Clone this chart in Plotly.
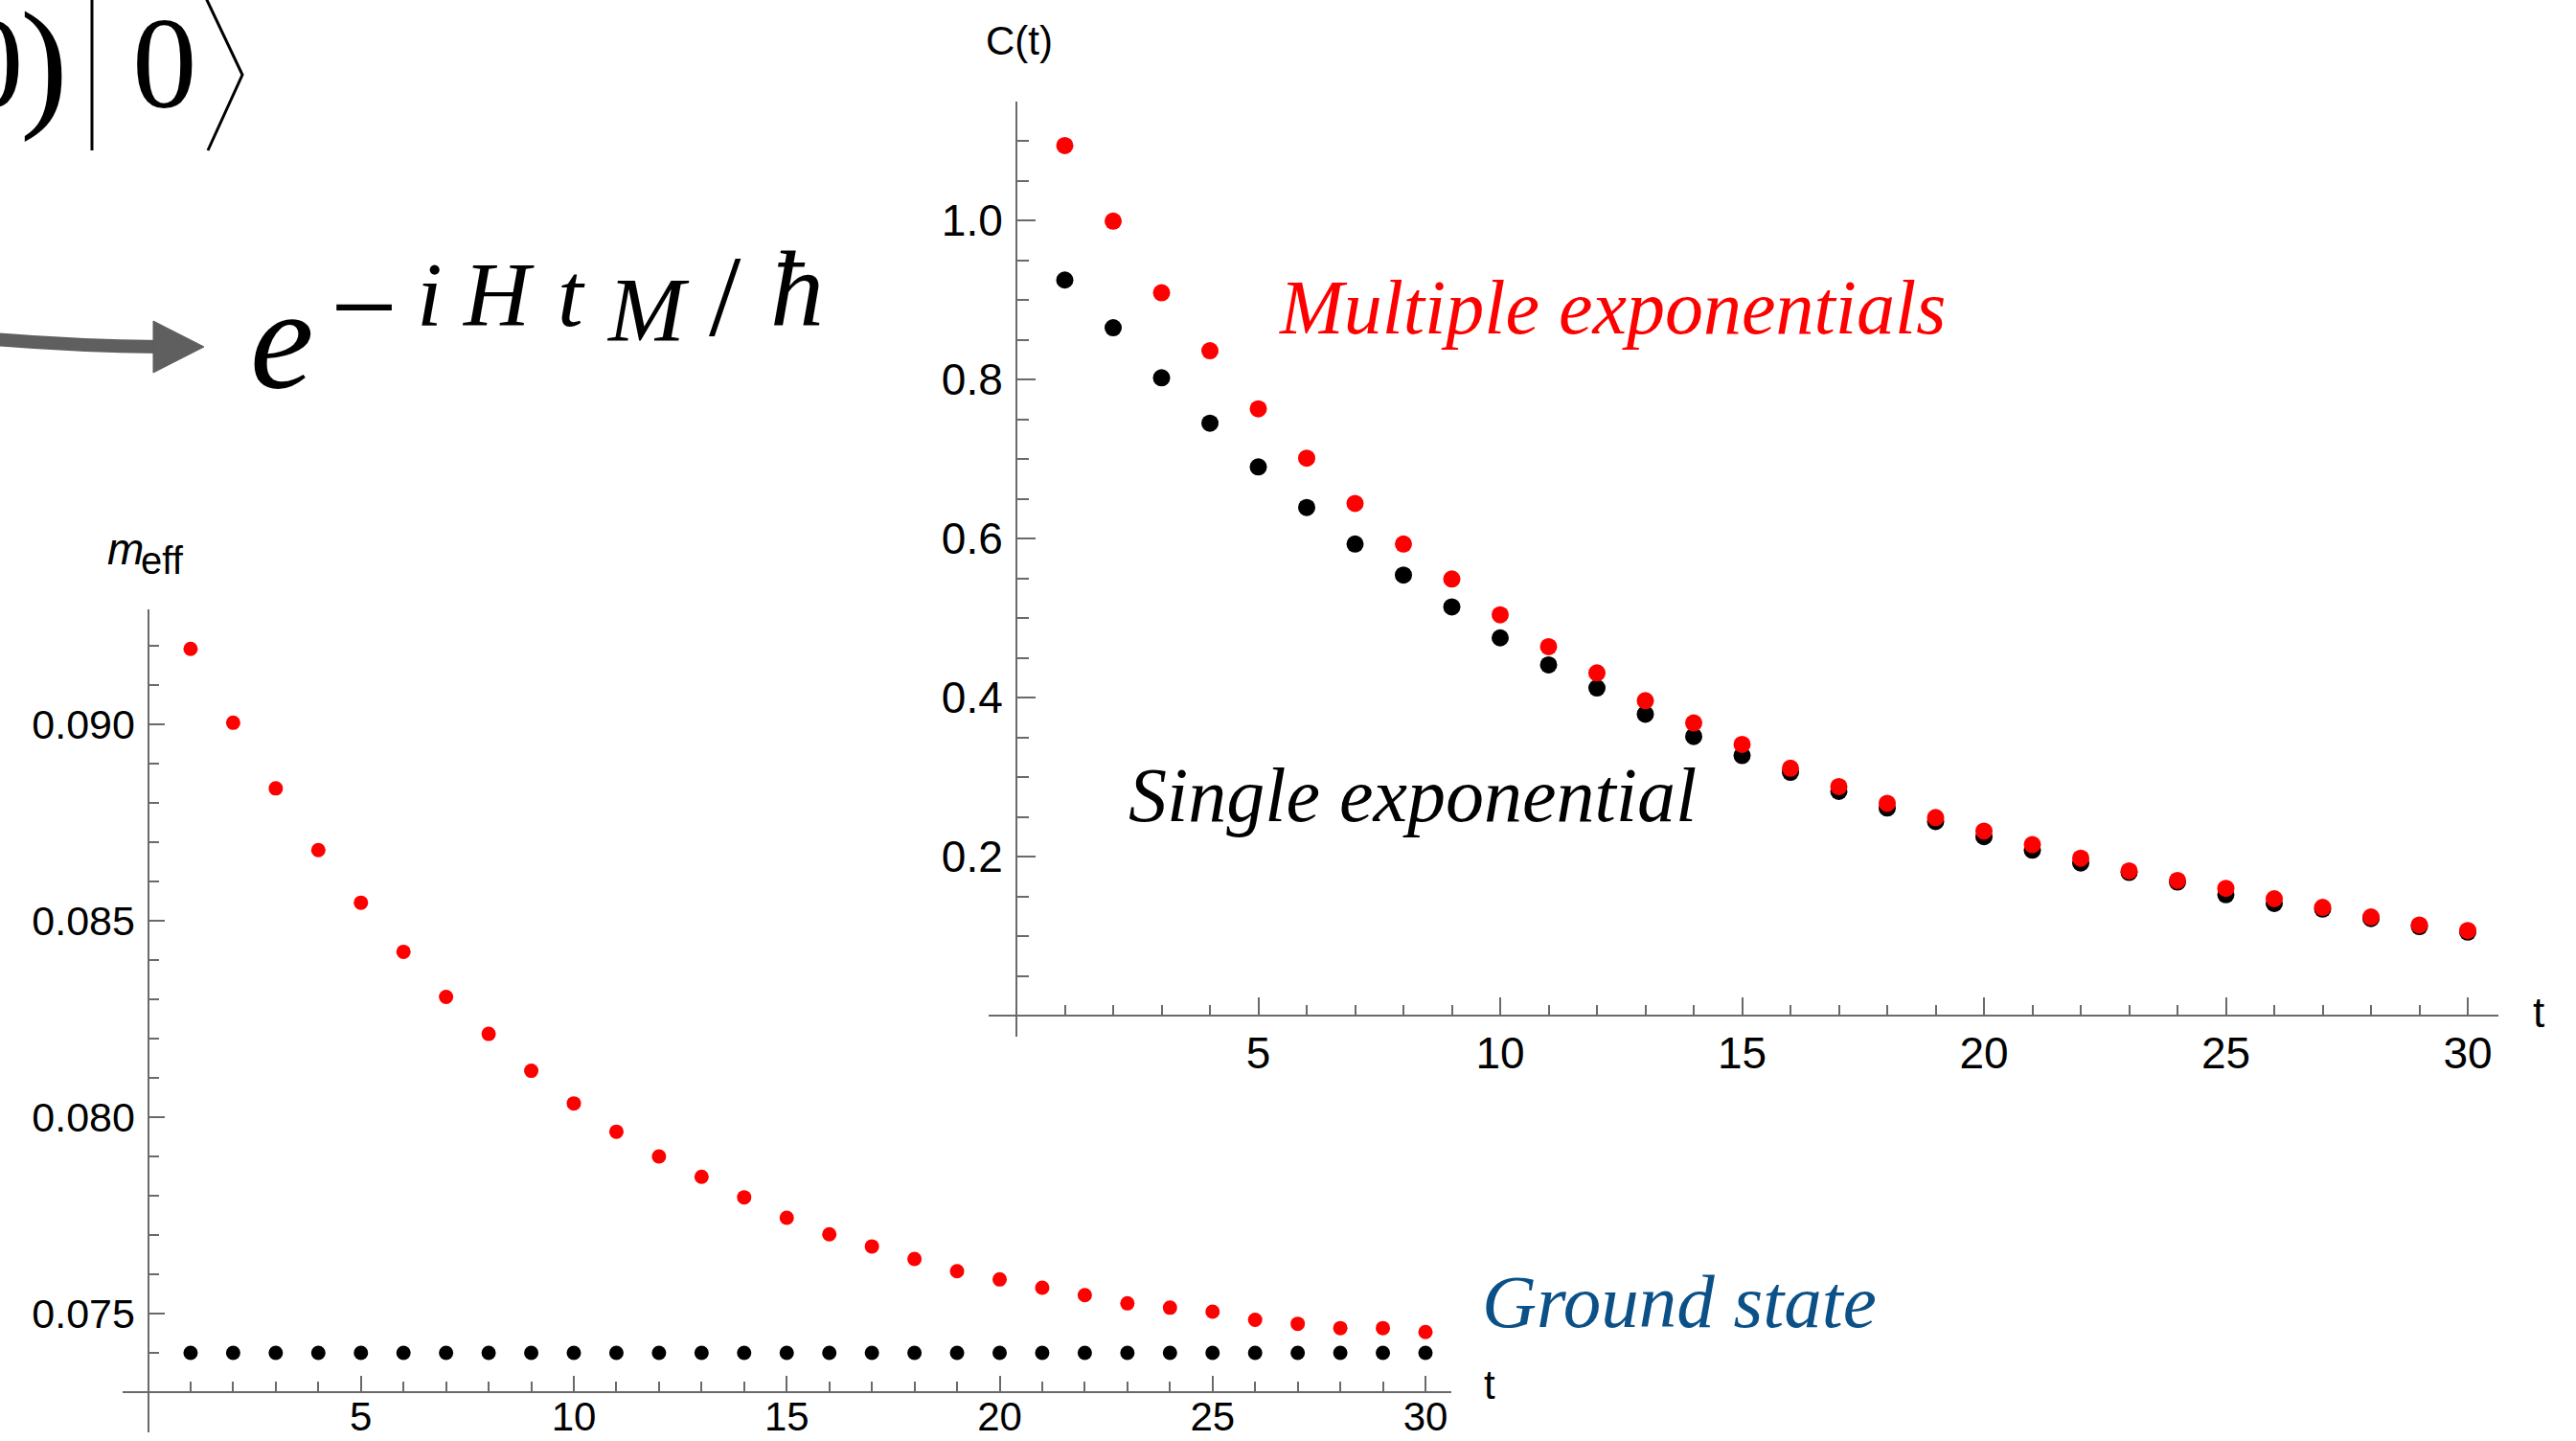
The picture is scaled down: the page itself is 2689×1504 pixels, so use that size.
import plotly.graph_objects as go

W, H = 2689, 1504

# ---------------- data ----------------
t_vals = [1, 2, 3, 4, 5, 6, 7, 8, 9, 10, 11, 12, 13, 14, 15,
          16, 17, 18, 19, 20, 21, 22, 23, 24, 25, 26, 27, 28, 29, 30]

# correlator C(t)
c_multi = [1.094, 0.999, 0.909, 0.836, 0.763, 0.701, 0.644, 0.593, 0.549, 0.504,
           0.464, 0.431, 0.396, 0.368, 0.341, 0.311, 0.288, 0.267, 0.249, 0.232,
           0.215, 0.198, 0.182, 0.170, 0.160, 0.147, 0.136, 0.124, 0.114, 0.107]
c_single = [0.925, 0.865, 0.802, 0.745, 0.690, 0.639, 0.593, 0.554, 0.514, 0.475,
            0.441, 0.412, 0.379, 0.351, 0.327, 0.306, 0.282, 0.261, 0.244, 0.225,
            0.208, 0.192, 0.180, 0.168, 0.152, 0.141, 0.134, 0.122, 0.112, 0.105]

# effective mass
m_multi = [0.09192, 0.09004, 0.08837, 0.08680, 0.08546, 0.08421, 0.08306, 0.08212,
           0.08118, 0.08035, 0.07963, 0.07900, 0.07848, 0.07796, 0.07744, 0.07702,
           0.07671, 0.07639, 0.07608, 0.07587, 0.07566, 0.07547, 0.07526, 0.07515,
           0.07505, 0.07484, 0.07474, 0.07463, 0.07463, 0.07453]
m_ground = [0.0740, 0.0740, 0.0740, 0.0740, 0.0740, 0.0740, 0.0740, 0.0740,
            0.0740, 0.0740, 0.0740, 0.0740, 0.0740, 0.0740, 0.0740, 0.0740,
            0.0740, 0.0740, 0.0740, 0.0740, 0.0740, 0.0740, 0.0740, 0.0740,
            0.0740, 0.0740, 0.0740, 0.0740, 0.0740, 0.0740]

# ticks
t_major = [5, 10, 15, 20, 25, 30]
t_major_text = ["5", "10", "15", "20", "25", "30"]
t_minor = [1, 2, 3, 4, 6, 7, 8, 9, 11, 12, 13, 14, 16, 17, 18, 19,
           21, 22, 23, 24, 26, 27, 28, 29]
c_major = [0.2, 0.4, 0.6, 0.8, 1.0]
c_major_text = ["0.2", "0.4", "0.6", "0.8", "1.0"]
c_minor = [0.05, 0.1, 0.15, 0.25, 0.3, 0.35, 0.45, 0.5, 0.55, 0.65, 0.7, 0.75,
           0.85, 0.9, 0.95, 1.05, 1.1, 1.15]
m_major = [0.075, 0.080, 0.085, 0.090]
m_major_text = ["0.075", "0.080", "0.085", "0.090"]
m_minor = [0.072, 0.074, 0.076, 0.077, 0.078, 0.079, 0.081, 0.082, 0.083,
           0.084, 0.086, 0.087, 0.088, 0.089, 0.091, 0.092]

RED = "#ff0000"
BLACK = "#000000"
BLUE = "#0b5187"
GRAY = "#6a6a6a"
SANS = "Liberation Sans, Arial, sans-serif"
SERIF = "Liberation Serif, Times New Roman, serif"


def X(px):
    return px / W


def Y(py):
    return 1 - py / H


fig = go.Figure()

# lower panel: effective mass
fig.add_trace(go.Scatter(x=t_vals, y=m_ground, mode="markers", xaxis="x", yaxis="y",
                         marker=dict(color=BLACK, size=15), showlegend=False))
fig.add_trace(go.Scatter(x=t_vals, y=m_multi, mode="markers", xaxis="x", yaxis="y",
                         marker=dict(color=RED, size=15), showlegend=False))
# upper panel: correlator
fig.add_trace(go.Scatter(x=t_vals, y=c_single, mode="markers", xaxis="x2", yaxis="y2",
                         marker=dict(color=BLACK, size=18), showlegend=False))
fig.add_trace(go.Scatter(x=t_vals, y=c_multi, mode="markers", xaxis="x2", yaxis="y2",
                         marker=dict(color=RED, size=18), showlegend=False))


def axis_common(size):
    return dict(showgrid=False, zeroline=False, showline=True, linecolor=GRAY,
                linewidth=2, ticks="inside", tickcolor=GRAY, tickwidth=2,
                tickfont=dict(family=SANS, size=size, color="black"),
                tickmode="array", automargin=False)


# lower panel geometry (pixels)
lo_x0 = 154.5        # pixel of t = 0
lo_dx = 44.45        # pixels per unit t
lo_y_ref = 1371.0    # pixel of m = 0.075
lo_dy = 41000.0      # pixels per unit m

xa = axis_common(42)
xa.update(domain=[X(127.5), X(1515)],
          range=[(127.5 - lo_x0) / lo_dx, (1515 - lo_x0) / lo_dx],
          anchor="free", position=Y(1453), ticklen=16,
          tickvals=t_major, ticktext=t_major_text, ticklabelstandoff=-11,
          minor=dict(tickvals=t_minor, ticks="inside", ticklen=10,
                     tickcolor=GRAY, tickwidth=1.5, showgrid=False))
ya = axis_common(43)
ya.update(domain=[Y(1495), Y(635.6)],
          range=[0.075 - (1495 - lo_y_ref) / lo_dy, 0.075 + (lo_y_ref - 635.6) / lo_dy],
          anchor="free", position=X(lo_x0), ticklen=16,
          tickvals=m_major, ticktext=m_major_text, ticklabelstandoff=4,
          minor=dict(tickvals=m_minor, ticks="inside", ticklen=10,
                     tickcolor=GRAY, tickwidth=1.5, showgrid=False))

# upper panel geometry
up_x0 = 1061.0
up_dx = 50.5
up_y0 = 1060.0
up_dy = 830.0

xa2 = axis_common(46)
xa2.update(domain=[X(1032), X(2608)],
           range=[(1032 - up_x0) / up_dx, (2608 - up_x0) / up_dx],
           anchor="free", position=Y(up_y0), ticklen=18,
           tickvals=t_major, ticktext=t_major_text, ticklabelstandoff=-1,
           minor=dict(tickvals=t_minor, ticks="inside", ticklen=10,
                      tickcolor=GRAY, tickwidth=1.5, showgrid=False))
ya2 = axis_common(46)
ya2.update(domain=[Y(1082), Y(106)],
           range=[(up_y0 - 1082) / up_dy, (up_y0 - 106) / up_dy],
           anchor="free", position=X(up_x0), ticklen=19,
           tickvals=c_major, ticktext=c_major_text, ticklabelstandoff=4,
           minor=dict(tickvals=c_minor, ticks="inside", ticklen=12,
                      tickcolor=GRAY, tickwidth=1.5, showgrid=False))

annotations = []


def text(s, x, baseline, size, family, color="black", xanchor="center", k=0.3375):
    annotations.append(dict(text=s, x=X(x), y=Y(baseline - k * size),
                            xref="paper", yref="paper", xanchor=xanchor, yanchor="middle",
                            showarrow=False, font=dict(family=family, size=size, color=color)))


# axis labels
text("C(t)", 1064, 57, 42, SANS, k=0.3465)
text("t", 2650, 1072, 44, SANS, k=0.3465)
text("t", 1555, 1460, 42, SANS, k=0.3465)
text("<i>m</i>", 131, 589, 46, SANS, k=0.3465)
text("eff", 169, 599, 40, SANS, k=0.3465)

# curve labels
text("<i>Multiple exponentials</i>", 1333, 348, 80, SERIF, RED, xanchor="left")
text("<i>Single exponential</i>", 1176, 857, 80, SERIF, BLACK, xanchor="left")
text("<i>Ground state</i>", 1545, 1385, 79, SERIF, BLUE, xanchor="left")

# formula fragments (top-left)
text("0", -9, 112, 135, SERIF)
text(")", 46, 116, 150, SERIF)
text("0", 172, 112, 135, SERIF)
text("<i>e</i>", 294, 405, 150, SERIF)
text("\u2212", 380, 362, 124, SERIF)
text("<i>i</i>", 448, 340, 96, SERIF)
text("<i>H</i>", 520, 340, 96, SERIF)
text("<i>t</i>", 596, 340, 96, SERIF)
text("<i>M</i>", 676, 356, 96, SERIF)
text("/", 757, 350, 120, SERIF)
text("<i>\u0127</i>", 832, 340, 112, SERIF)

fig.update_layout(annotations=annotations)


def path(points, close=False):
    s = "M " + " L ".join(f"{X(a):.5f},{Y(b):.5f}" for a, b in points)
    return s + (" Z" if close else "")


shapes = [
    # ket bar and angle bracket
    dict(type="line", xref="paper", yref="paper", x0=X(96), x1=X(96), y0=Y(0), y1=Y(157),
         line=dict(color="black", width=3)),
    dict(type="path", xref="paper", yref="paper",
         path=path([(215, -2), (253, 78), (217, 157)]),
         line=dict(color="black", width=3)),
    # arrow shaft (slightly curved)
    dict(type="path", xref="paper", yref="paper",
         path=f"M {X(-5):.5f},{Y(354):.5f} Q {X(80):.5f},{Y(361):.5f} {X(168):.5f},{Y(362):.5f}",
         line=dict(color="#5f5f5f", width=14)),
    # arrow head
    dict(type="path", xref="paper", yref="paper",
         path=path([(160, 335), (213, 362), (160, 389)], close=True),
         fillcolor="#5f5f5f", line=dict(color="#5f5f5f", width=1)),
]
fig.update_layout(shapes=shapes)

fig.update_layout(
    width=W, height=H,
    margin=dict(l=0, r=0, t=0, b=0, pad=0, autoexpand=False),
    paper_bgcolor="white", plot_bgcolor="rgba(0,0,0,0)",
    xaxis=xa, yaxis=ya, xaxis2=xa2, yaxis2=ya2,
    showlegend=False,
)

fig.write_html("out.html",
               config={"displayModeBar": False},
               post_script="document.body.style.margin='0';"
                           "document.body.style.padding='0';"
                           "document.body.style.overflow='hidden';")
